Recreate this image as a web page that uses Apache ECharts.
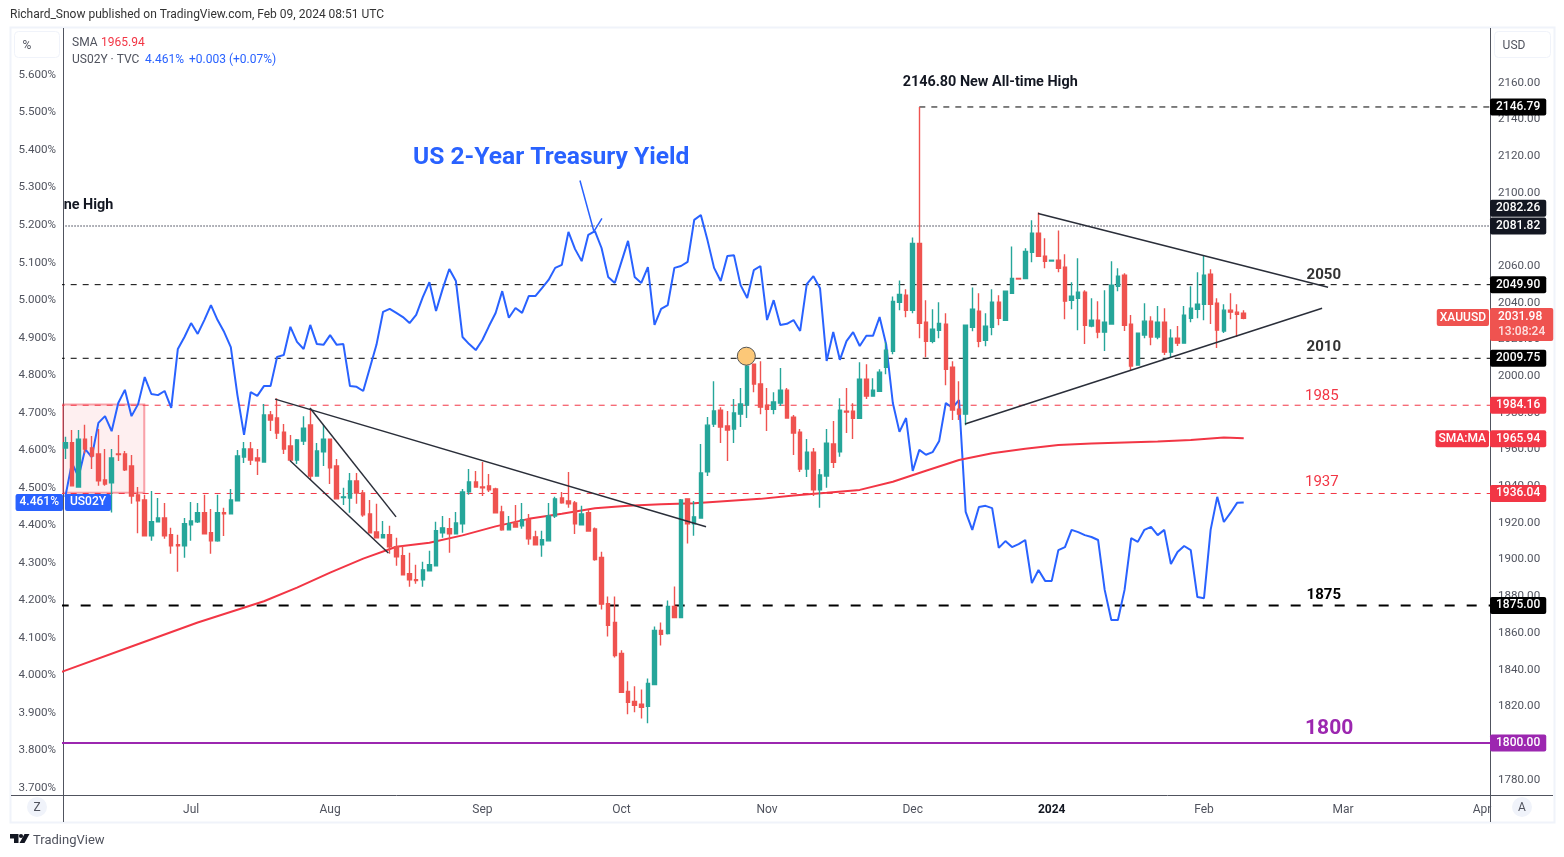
<!DOCTYPE html>
<html>
<head>
<meta charset="utf-8">
<title>XAUUSD vs US02Y</title>
<script src="https://cdn.jsdelivr.net/npm/echarts@6/dist/echarts.min.js"></script>
<style>
html,body{margin:0;padding:0;background:#fff}
#chart{width:1564px;height:857px}
</style>
</head>
<body>
<div id="chart"></div>
<script>
// daily gold candles, x is the trading day index (Jun 6 2023 = 0)
var opens = [1960.8,1963.7,1939.6,1965.7,1960.8,1957.6,1943.4,1941.8,1957.6,1957.6,
1951.0,1935.3,1932.5,1912.9,1920.6,1922.7,1913.5,1908.1,1907.5,1918.9,
1920.6,1925.5,1914.6,1910.2,1925.5,1924.9,1932.0,1955.9,1960.3,1955.4,
1953.2,1978.8,1977.2,1969.5,1961.9,1954.3,1964.6,1973.4,1945.6,1958.7,
1965.7,1951.0,1933.8,1933.6,1942.9,1936.3,1924.9,1915.1,1911.9,1913.5,
1907.0,1902.1,1892.3,1889.0,1889.0,1893.9,1896.6,1914.6,1916.8,1914.0,
1919.5,1936.9,1942.3,1939.6,1940.2,1938.5,1926.0,1916.2,1920.0,1918.4,
1921.7,1912.4,1908.1,1910.2,1923.8,1933.6,1932.0,1930.9,1918.9,1925.5,
1916.7,1901.1,1876.0,1865.7,1848.8,1828.1,1822.7,1821.1,1820.0,1831.9,
1861.3,1859.7,1874.4,1868.4,1933.1,1919.5,1922.7,1947.8,1973.9,1981.5,
1972.8,1971.2,1979.3,1984.2,2006.5,1995.7,1984.2,1982.0,1985.3,1992.4,
1977.7,1969.5,1949.4,1958.6,1938.0,1945.6,1963.0,1958.7,1980.9,1980.9,
1977.1,1998.4,1989.1,1991.8,2004.9,2013.6,2040.3,2044.1,2035.9,2072.4,
2029.4,2019.0,2025.0,2028.3,2004.9,1982.0,1979.3,2026.7,2035.4,2019.6,
2026.7,2040.3,2030.5,2045.2,2053.3,2053.3,2067.5,2077.9,2065.4,2062.8,
2063.2,2059.4,2041.4,2042.5,2045.8,2027.3,2030.5,2024.0,2028.4,2049.0,
2055.0,2028.4,2006.0,2022.4,2030.0,2021.3,2029.4,2013.1,2020.7,2018.0,
2031.6,2036.5,2039.2,2055.6,2039.8,2024.6,2036.0,2034.9,2034.3];
var closes = [1963.7,1940.2,1965.7,1960.3,1956.5,1942.9,1941.2,1955.4,1957.2,1948.9,
1934.7,1932.0,1912.9,1920.6,1922.7,1912.9,1907.5,1907.5,1919.5,1921.1,
1925.5,1914.0,1910.2,1925.5,1924.9,1932.5,1956.5,1960.3,1954.3,1953.8,
1978.8,1976.1,1969.0,1960.3,1954.3,1965.2,1971.7,1945.6,1959.2,1965.7,
1950.0,1933.1,1934.2,1942.9,1936.3,1924.4,1914.6,1911.9,1913.5,1907.0,
1901.5,1891.7,1889.0,1888.5,1894.4,1897.2,1915.7,1917.3,1914.0,1920.0,
1936.9,1942.3,1939.6,1939.1,1938.0,1925.5,1916.2,1919.5,1917.8,1921.7,
1911.3,1908.1,1910.8,1923.8,1933.1,1930.9,1930.4,1919.5,1924.9,1915.6,
1900.0,1875.7,1864.1,1847.7,1827.6,1822.2,1820.5,1819.4,1832.5,1861.3,
1859.2,1874.4,1868.4,1932.5,1919.5,1923.3,1947.2,1973.3,1981.0,1972.3,
1970.6,1979.9,1984.8,2005.4,1995.7,1983.1,1982.0,1985.9,1992.4,1977.2,
1969.0,1949.4,1958.6,1938.0,1946.1,1963.5,1953.0,1981.5,1980.5,1977.1,
1998.4,1989.1,1992.4,2002.2,2014.2,2040.8,2044.6,2035.9,2072.4,2028.8,
2019.0,2025.6,2028.8,2003.8,1981.5,1979.3,2027.8,2036.5,2019.0,2027.2,
2040.3,2031.6,2046.3,2053.3,2053.0,2068.0,2077.9,2065.4,2062.6,2063.2,
2058.8,2040.9,2043.6,2045.8,2027.8,2030.5,2024.0,2029.4,2049.6,2054.5,
2027.8,2005.5,2023.5,2030.0,2021.3,2029.4,2013.1,2020.7,2018.0,2033.3,
2037.1,2039.2,2055.0,2039.2,2025.1,2036.0,2034.9,2033.8,2031.6];
var highs = [1967.0,1970.6,1970.6,1973.5,1967.4,1971.2,1960.3,1960.3,1967.9,1959.2,
1957.0,1939.6,1935.3,1937.4,1933.6,1930.9,1917.3,1913.5,1922.7,1931.4,
1930.9,1935.3,1927.6,1935.3,1928.2,1938.5,1959.7,1964.1,1964.1,1960.3,
1984.8,1981.0,1988.0,1973.9,1967.9,1965.7,1978.2,1982.6,1963.6,1973.4,
1965.7,1954.8,1939.1,1947.2,1947.2,1938.0,1932.5,1930.4,1921.1,1918.4,
1911.9,1907.5,1903.7,1897.2,1898.8,1904.8,1920.6,1923.8,1922.7,1926.0,
1938.5,1949.4,1948.3,1953.2,1946.7,1939.1,1929.3,1923.8,1929.8,1930.9,
1924.9,1915.7,1915.7,1930.9,1934.2,1936.9,1947.8,1932.0,1929.3,1927.1,
1917.5,1904.3,1879.8,1879.8,1850.5,1833.6,1830.9,1829.2,1835.2,1863.5,
1865.7,1877.7,1885.3,1933.0,1933.5,1932.0,1963.0,1977.7,1997.3,1983.1,
1981.0,1987.5,1993.5,2010.5,2006.5,2008.2,1993.5,1991.3,2004.4,1993.5,
1978.8,1971.2,1965.7,1960.8,1949.4,1971.2,1975.5,1988.0,1993.5,1985.3,
2007.6,2006.5,1998.9,2003.8,2018.5,2043.5,2052.2,2047.4,2075.6,2146.79,
2041.4,2036.5,2040.3,2034.3,2008.2,1997.3,2027.8,2048.4,2045.2,2034.3,
2047.4,2044.1,2046.3,2070.7,2053.3,2069.7,2085.0,2089.3,2075.2,2063.2,
2079.5,2066.5,2051.2,2064.3,2046.9,2042.5,2040.9,2046.9,2062.6,2058.8,
2056.1,2033.3,2023.5,2039.8,2032.7,2038.2,2037.1,2025.6,2027.3,2038.2,
2049.0,2056.7,2065.9,2058.3,2042.5,2039.2,2045.2,2039.2,2036.0];
var lows = [1954.8,1940.2,1939.4,1957.9,1949.4,1940.2,1940.2,1925.6,1953.8,1948.3,
1930.4,1914.4,1912.9,1910.2,1920.6,1911.3,1903.2,1893.4,1901.0,1910.2,
1920.0,1914.0,1903.2,1909.7,1912.9,1924.9,1932.0,1952.7,1951.6,1946.1,
1953.2,1970.1,1965.7,1957.6,1954.3,1952.1,1962.5,1943.4,1945.6,1951.0,
1941.2,1933.1,1929.8,1925.5,1930.4,1923.3,1914.6,1911.9,1911.9,1903.2,
1896.6,1891.7,1885.2,1886.8,1885.2,1893.9,1896.6,1911.9,1903.7,1914.0,
1914.6,1935.3,1939.6,1934.7,1936.9,1925.5,1915.7,1916.2,1917.8,1916.8,
1908.1,1908.1,1901.5,1910.2,1922.7,1930.4,1928.2,1914.0,1918.9,1915.3,
1899.4,1872.8,1858.1,1846.6,1827.6,1815.6,1816.7,1813.4,1810.7,1831.9,
1853.2,1859.2,1868.4,1868.4,1908.7,1913.0,1922.7,1945.6,1972.3,1963.5,
1953.8,1963.5,1972.3,1977.2,1991.3,1979.3,1970.1,1979.3,1983.7,1977.2,
1957.0,1947.8,1945.0,1934.7,1928.2,1939.1,1950.0,1956.0,1969.0,1965.7,
1977.1,1987.5,1989.1,1991.8,2001.1,2012.0,2035.9,2032.1,2034.3,2020.7,
2010.3,2018.0,2020.7,1995.1,1976.1,1976.1,1973.3,2024.5,2015.8,2016.3,
2022.3,2027.8,2030.5,2045.2,2053.0,2053.3,2062.1,2065.4,2058.8,2062.8,
2056.7,2031.1,2036.5,2025.1,2017.5,2026.7,2020.7,2013.7,2028.4,2046.3,
2024.6,2002.8,2006.0,2020.7,2016.9,2020.2,2011.5,2010.4,2016.4,2018.0,
2029.4,2031.6,2030.5,2028.4,2015.3,2023.5,2031.1,2021.3,2031.1];

// US 2 year yield, one value per trading day
var yields = [4.476,4.566,4.529,4.603,4.582,4.673,4.691,4.651,4.726,4.761,
4.691,4.723,4.795,4.750,4.747,4.758,4.713,4.870,4.902,4.939,
4.910,4.947,4.987,4.947,4.915,4.875,4.747,4.641,4.755,4.745,
4.771,4.771,4.849,4.854,4.929,4.889,4.870,4.934,4.883,4.881,
4.907,4.881,4.883,4.771,4.769,4.758,4.819,4.881,4.969,4.977,
4.966,4.955,4.939,4.961,5.008,5.048,4.971,5.030,5.083,5.051,
4.902,4.883,4.867,4.894,4.931,4.966,5.024,4.953,4.979,4.966,
5.011,5.011,5.032,5.054,5.086,5.094,5.182,5.136,5.104,5.174,
5.184,5.139,5.062,5.046,5.102,5.158,5.062,5.046,5.088,4.934,
4.977,4.987,5.086,5.091,5.102,5.214,5.227,5.160,5.086,5.051,
5.118,5.120,5.040,5.006,5.080,5.091,4.947,5.000,4.934,4.937,
4.947,4.918,5.043,5.064,5.032,4.838,4.915,4.841,4.891,4.915,
4.878,4.905,4.905,4.955,4.881,4.726,4.649,4.686,4.545,4.601,
4.588,4.595,4.625,4.726,4.713,4.734,4.436,4.388,4.449,4.452,
4.446,4.340,4.358,4.342,4.350,4.361,4.246,4.281,4.252,4.252,
4.334,4.342,4.388,4.382,4.374,4.369,4.361,4.228,4.148,4.148,
4.228,4.366,4.356,4.388,4.396,4.374,4.388,4.297,4.329,4.345,
4.334,4.209,4.206,4.388,4.476,4.409,4.433,4.460,4.461];

// 200 day SMA read at every fifth day
var smaDays = [-1,10,20,30,35,40,45,50,55,60,65,70,75,80,85,90,95,100,105,110,115,120,125,130,135,140,145,150,155,160,165,170,175,178];
var smaValues = [1838.2,1852.6,1865.7,1877.3,1884.7,1892.9,1900.5,1907.0,1909.2,1913.2,1918.1,1922.2,1925.0,1928.0,1929.3,1930.1,1930.7,1932.0,1933.1,1935.0,1936.4,1938.0,1942.4,1948.4,1954.3,1958.0,1960.4,1962.5,1963.3,1963.9,1964.4,1965.2,1966.6,1966.2];

var yieldTicks = [5.6,5.5,5.4,5.3,5.2,5.1,5.0,4.9,4.8,4.7,4.6,4.5,4.4,4.3,4.2,4.1,4.0,3.9,3.8,3.7];
var priceTicks = [2160,2140,2120,2100,2080,2060,2040,2020,2000,1980,1960,1940,1920,1900,1880,1860,1840,1820,1800,1780];
var monthDays = [19,40,63,84,106,128,149,172,193,214];
var monthNames = ['Jul','Aug','Sep','Oct','Nov','Dec','2024','Feb','Mar','Apr'];

// horizontal levels: price, first day
var levelPrices = [2146.79,2081.82,2049.90,2009.75,1984.16,1936.04,1875.00,1800.00];
var levelStarts = [129,0,-1,-1,-1,-1,-1,-1];

// trend lines: [day, price, day, price]
var trendLines = [
  [146.93,2088.7,190.74,2048.5],
  [135.9,1973.9,189.84,2037.0],
  [31.68,1987.5,96.78,1917.9],
  [36.96,1982.6,49.96,1923.3],
  [33.93,1954.0,48.8,1903.6]
];
var arrowDays = [77.74,79.85,81.06];
var arrowPrices = [2106.7,2078.9,2086.0];

var boxDays = [-1,11.93];
var boxPrices = [1984.6,1936.4];
var circleDay = 102.87;
var circlePrice = 2010.9;

var noteTexts = ['2146.80 New All-time High','US 2-Year Treasury Yield','ne High','2050','2010','1985','1937','1875','1800'];
var noteDays = [139.7,73.4,3.5,190.1,190.1,189.8,189.8,190.1,190.9];
var notePrices = [2160.0,2119.0,2093.1,2055.1,2015.9,1989.2,1941.9,1880.4,1807.5];

var tagPrices = [2146.79,2082.26,2081.82,2049.90,2009.75,1984.16,1965.94,1936.04,1875.00,1800.00];

var FONT = 'Roboto';
var UP = '#26a69a', DOWN = '#ef5350', RED = '#f23645', BLUE = '#2962ff', PURPLE = '#9c27b0', DARK = '#131722';
var X_MIN = -0.347, X_MAX = 215.2;

var noteStyles = [
  {color:'#131722',fontSize:14.4,fontWeight:'bold'},
  {color:BLUE,fontSize:24.6,fontWeight:'bold'},
  {color:'#131722',fontSize:14.4,fontWeight:'bold'},
  {color:'#333',fontSize:15,fontWeight:'bold'},
  {color:'#333',fontSize:15,fontWeight:'bold'},
  {color:RED,fontSize:15},
  {color:RED,fontSize:15},
  {color:'#000',fontSize:15,fontWeight:'bold'},
  {color:PURPLE,fontSize:21,fontWeight:'bold'}
];
var levelStyles = [
  {color:'#000',type:[6,6],width:1},
  {color:'#787b86',type:[1.5,1.5],width:1.5},
  {color:'#000',type:[6,6],width:1},
  {color:'#000',type:[6,6],width:1},
  {color:RED,type:[6,6],width:1},
  {color:RED,type:[6,6],width:1},
  {color:'#000',type:[10,12],width:2},
  {color:PURPLE,type:'solid',width:2}
];
var tagColors = ['#000',DARK,DARK,'#000','#000',RED,RED,RED,'#000',PURPLE];

var candles = opens.map(function(o,i){ return [i,o,closes[i],lows[i],highs[i]]; });

var series = [];

levelPrices.forEach(function(p,i){
  series.push({
    type:'line', yAxisIndex:1, z:1, showSymbol:false, silent:true,
    data:[[levelStarts[i],p],[X_MAX,p]], lineStyle:levelStyles[i]
  });
});

series.push({
  type:'line', name:'US02Y', yAxisIndex:0, z:2, showSymbol:false, smooth:false,
  data:yields.map(function(v,i){ return [i,v]; }),
  lineStyle:{color:BLUE,width:2}
});
series.push({
  type:'line', name:'SMA', yAxisIndex:1, z:2, showSymbol:false,
  data:smaDays.map(function(d,i){ return [d,smaValues[i]]; }),
  lineStyle:{color:RED,width:2}
});
series.push({
  type:'candlestick', name:'XAUUSD', yAxisIndex:1, z:3, barWidth:4,
  data:candles,
  itemStyle:{color:UP,color0:DOWN,borderColor:UP,borderColor0:DOWN,borderWidth:1.4},
  markArea:{
    silent:true,
    itemStyle:{color:'rgba(242,54,69,0.08)',borderColor:'rgba(242,54,69,0.45)',borderWidth:2},
    data:[[{coord:[boxDays[0],boxPrices[0]]},{coord:[boxDays[1],boxPrices[1]]}]]
  }
});

trendLines.forEach(function(t){
  series.push({
    type:'line', yAxisIndex:1, z:4, showSymbol:false, silent:true,
    data:[[t[0],t[1]],[t[2],t[3]]], lineStyle:{color:'#2a2e39',width:1.5}
  });
});
series.push({
  type:'line', yAxisIndex:1, z:4, showSymbol:false, silent:true,
  data:arrowDays.map(function(d,i){ return [d,arrowPrices[i]]; }),
  lineStyle:{color:BLUE,width:1.5}
});
series.push({
  type:'scatter', yAxisIndex:1, z:5, silent:true, symbolSize:18,
  data:[[circleDay,circlePrice]],
  itemStyle:{color:'#fcc878',borderColor:'#555',borderWidth:1,opacity:1}
});

// text notes sitting on the chart
series.push({
  type:'scatter', yAxisIndex:1, z:6, silent:true, symbolSize:0, clip:false, itemStyle:{opacity:1},
  data:noteTexts.map(function(t,i){
    return {value:[noteDays[i],notePrices[i]],label:Object.assign({show:true,position:'inside',formatter:t,fontFamily:FONT},noteStyles[i])};
  })
});

function tag(day,price,text,color,pos,extra){
  return {value:[day,price],label:Object.assign({
    show:true,position:pos,distance:0,formatter:text,color:'#fff',fontFamily:FONT,fontSize:12,fontWeight:500,
    backgroundColor:color,padding:[2,6],lineHeight:13,borderRadius:2
  },extra||{})};
}
var priceTags = tagPrices.map(function(p,i){
  return tag(X_MAX,p,p.toFixed(2),tagColors[i],'right',i==1?{offset:[0,-17]}:{});
});
priceTags.push(tag(X_MAX,2031.98,'{a|2031.98}\n{b|13:08:24}',DOWN,'right',{
  offset:[0,7],padding:[1,8,2,8],
  rich:{a:{color:'#fff',fontFamily:FONT,fontSize:12,fontWeight:500,lineHeight:15},b:{color:'#fde0e0',fontFamily:FONT,fontSize:12,lineHeight:15}}
}));
priceTags.push(tag(X_MAX-0.15,2031.98,'XAUUSD',DOWN,'left',{padding:[2,3]}));
priceTags.push(tag(X_MAX-0.15,1965.94,'SMA:MA',RED,'left',{padding:[2,3]}));
series.push({type:'scatter',yAxisIndex:1,z:7,silent:true,symbolSize:0,clip:false,itemStyle:{opacity:1},data:priceTags});

series.push({type:'scatter',yAxisIndex:0,z:7,silent:true,symbolSize:0,clip:false,itemStyle:{opacity:1},data:[
  tag(X_MIN,4.461,'4.461%',BLUE,'left',{padding:[2,4]}),
  tag(-0.05,4.461,'US02Y',BLUE,'right',{padding:[2,5]})
]});

function hline(x1,y1,x2,y2,color,w){
  return {type:'line',z:1,silent:true,shape:{x1:x1,y1:y1,x2:x2,y2:y2},style:{stroke:color,lineWidth:w}};
}
function txt(x,y,text,color,size,extra){
  return {type:'text',z:8,silent:true,x:x,y:y,style:Object.assign({text:text,fill:color,font:(size||12)+'px '+FONT,verticalAlign:'middle'},extra||{})};
}
var PANEL = '#f0f3fa', AXIS = '#50535e';
var graphic = [
  {type:'rect',z:0,silent:true,shape:{x:10.5,y:27.5,width:1544,height:795},style:{fill:'none',stroke:PANEL,lineWidth:2}},
  hline(63.5,28,63.5,822,AXIS,1),
  hline(1490.5,28,1490.5,822,AXIS,1),
  hline(11,795.5,1553,795.5,AXIS,1),
  {type:'rect',z:1,silent:true,shape:{x:14.5,y:31.5,width:45,height:26,r:4},style:{fill:'#fff',stroke:PANEL,lineWidth:1}},
  {type:'rect',z:1,silent:true,shape:{x:1494.5,y:31.5,width:56,height:26,r:4},style:{fill:'#fff',stroke:PANEL,lineWidth:1}},
  txt(27,46,'%','#50535e',12,{textAlign:'center'}),
  txt(1514,45.5,'USD','#50535e',12,{textAlign:'center'}),
  {type:'circle',z:1,silent:true,shape:{cx:37,cy:807,r:10},style:{fill:PANEL}},
  {type:'circle',z:1,silent:true,shape:{cx:1522,cy:807,r:10},style:{fill:PANEL}},
  txt(37,808,'Z','#50535e',12,{textAlign:'center'}),
  txt(1522,808,'A','#50535e',12,{textAlign:'center'}),
  txt(10,14.5,'Richard_Snow published on TradingView.com, Feb 09, 2024 08:51 UTC','#333',12),
  txt(72,43,'SMA','#50535e',12),
  txt(101,43,'1965.94',RED,12),
  txt(72,60,'US02Y · TVC','#50535e',12),
  txt(145,60,'4.461%',BLUE,12),
  txt(189,60,'+0.003 (+0.07%)',BLUE,12),
  txt(33,840.5,'TradingView','#50535e',13),
  {type:'polygon',z:2,silent:true,shape:{points:[[10,834],[18.5,834],[18.5,843],[14,843],[14,838.5],[10,838.5]]},style:{fill:DARK}},
  {type:'circle',z:2,silent:true,shape:{cx:21,cy:836,r:2.1},style:{fill:DARK}},
  {type:'polygon',z:2,silent:true,shape:{points:[[24.5,834],[29.5,834],[24.5,843],[19.5,843]]},style:{fill:DARK}}
];

var chart = echarts.init(document.getElementById('chart'));
chart.setOption({
  animation:false,
  backgroundColor:'#fff',
  grid:{left:63,top:28,width:1427,height:767,containLabel:false},
  xAxis:{
    type:'value',min:X_MIN,max:X_MAX,
    axisLine:{show:false},axisTick:{show:false},splitLine:{show:false},
    axisLabel:{
      customValues:monthDays,margin:9,color:'#50535e',fontFamily:FONT,fontSize:12,
      formatter:function(v){ var n=monthNames[monthDays.indexOf(v)]; return n=='2024'?'{b|2024}':n; },
      rich:{b:{fontWeight:'bold',color:'#131722',fontFamily:FONT,fontSize:12}}
    }
  },
  yAxis:[{
    type:'value',position:'left',min:3.6815,max:5.7252,
    axisLine:{show:false},axisTick:{show:false},splitLine:{show:false},
    axisLabel:{customValues:yieldTicks,margin:7,color:'#50535e',fontFamily:FONT,fontSize:11.6,padding:[3,0,0,0],formatter:function(v){ return v.toFixed(3)+'%'; }}
  },{
    type:'value',position:'right',min:1771.63,max:2189.85,
    axisLine:{show:false},axisTick:{show:false},splitLine:{show:false},
    axisLabel:{customValues:priceTicks,margin:8,color:'#50535e',fontFamily:FONT,fontSize:11.6,padding:[3,0,0,0],formatter:function(v){ return v.toFixed(2); }}
  }],
  graphic:graphic,
  series:series
});
</script>
</body>
</html>
